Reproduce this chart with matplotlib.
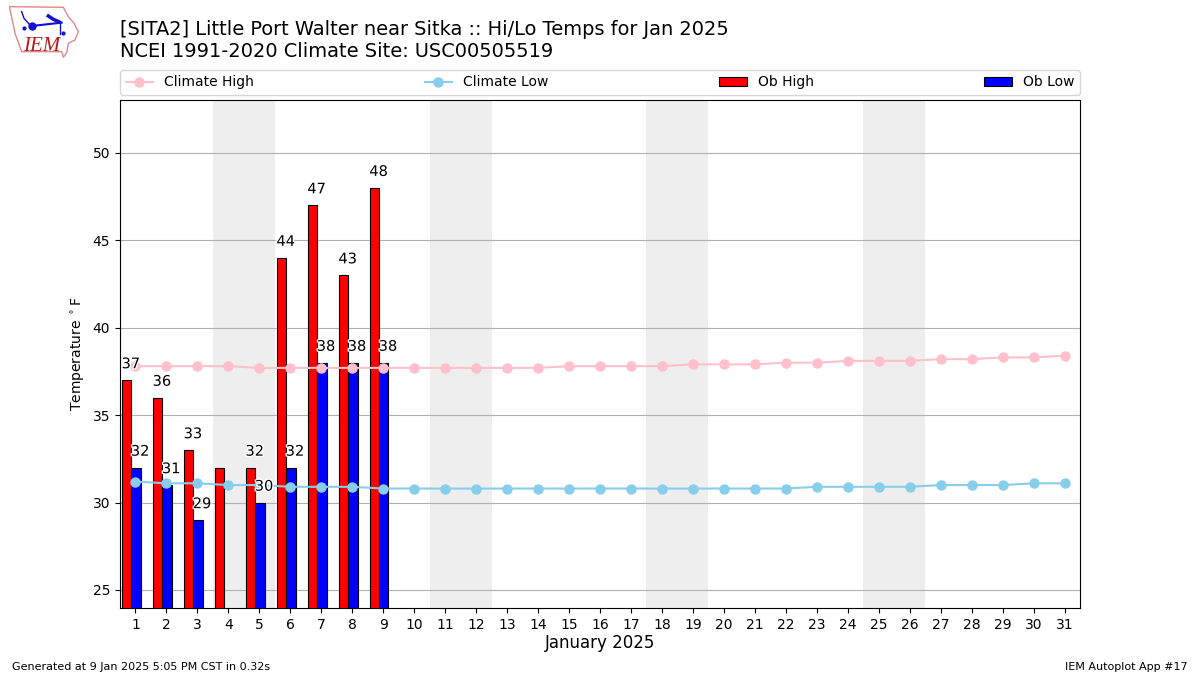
import matplotlib
matplotlib.use("Agg")
import matplotlib.pyplot as plt
import matplotlib.patheffects as pe
import numpy as np

days = list(range(1, 32))
climate_high = [37.8, 37.8, 37.8, 37.8, 37.7, 37.7, 37.7, 37.7, 37.7, 37.7, 37.7,
                37.7, 37.7, 37.7, 37.8, 37.8, 37.8, 37.8, 37.9, 37.9, 37.9, 38.0,
                38.0, 38.1, 38.1, 38.1, 38.2, 38.2, 38.3, 38.3, 38.4]
climate_low = [31.2, 31.1, 31.1, 31.0, 31.0, 30.9, 30.9, 30.9, 30.8, 30.8, 30.8,
               30.8, 30.8, 30.8, 30.8, 30.8, 30.8, 30.8, 30.8, 30.8, 30.8, 30.8,
               30.9, 30.9, 30.9, 30.9, 31.0, 31.0, 31.0, 31.1, 31.1]
ob_days = [1, 2, 3, 4, 5, 6, 7, 8, 9]
ob_high = [37, 36, 33, 32, 32, 44, 47, 43, 48]
# day 4 has no low on the chart and neither of its values is labelled
ob_low = [32, 31, 29, None, 30, 32, 38, 38, 38]
high_labels = [37, 36, 33, None, 32, 44, 47, 43, 48]
weekends = [(4, 5), (11, 12), (18, 19), (25, 26)]


def draw_logo(fig):
    ax = fig.add_axes([0.0075, 0.9126, 0.06, 0.0815])
    ax.set_xlim(27, 243)
    ax.set_ylim(177, 12)
    ax.axis("off")
    outline = [(28, 20), (190, 22), (205, 50), (222, 70), (235, 95), (225, 120), (205, 130),
               (200, 158), (190, 172), (185, 155), (65, 155), (45, 100), (40, 75), (28, 20)]
    blue = "#1010d0"
    ax.plot(*zip(*outline), color="#e08888", lw=1)
    ax.plot([95, 185], [78, 68], color=blue, lw=1.5)
    ax.plot([95], [78], "o", color=blue, ms=5)
    ax.plot([65, 72, 90], [35, 55, 75], color=blue, lw=1)
    ax.plot([145, 160, 178], [48, 58, 66], color=blue, lw=2.5)
    ax.plot([180, 180], [68, 102], color=blue, lw=1)
    ax.plot([72], [85], "o", color=blue, ms=2)
    ax.plot([188], [100], "o", color=blue, ms=2)
    ax.text(68, 153, "IEM", color="#c01818", family="Liberation Serif", style="italic",
            fontsize=15, ha="left", va="baseline")


def main():
    fig = plt.figure(figsize=(12, 6.75), dpi=100)
    ax = fig.add_axes([0.1, 0.0993, 0.8, 0.752])

    for start, end in weekends:
        ax.axvspan(start - 0.5, end + 0.5, color="#eeeeee", lw=0, zorder=0)

    red_x = [d - 0.28 for d in ob_days]
    blue_x = [d + 0.02 for d in ob_days]
    low_vals = [np.nan if v is None else v for v in ob_low]
    ax.bar(red_x, ob_high, width=0.3, color="red", edgecolor="black", lw=0.8,
           label="Ob High", zorder=2)
    ax.bar(blue_x, low_vals, width=0.3, color="blue", edgecolor="black", lw=0.8,
           label="Ob Low", zorder=2)

    ax.plot(days, climate_high, "-o", color="pink", ms=6.5, lw=1.5, label="Climate High", zorder=3)
    ax.plot(days, climate_low, "-o", color="skyblue", ms=6.5, lw=1.5, label="Climate Low", zorder=3)

    halo = [pe.withStroke(linewidth=2, foreground="white")]
    for d, val in zip(ob_days, high_labels):
        if val is not None:
            ax.text(d - 0.15, val + 0.68, str(val), ha="center", va="baseline",
                    fontsize=10.5, path_effects=halo, zorder=4)
    for d, val in zip(ob_days, ob_low):
        if val is not None:
            ax.text(d + 0.15, val + 0.68, str(val), ha="center", va="baseline",
                    fontsize=10.5, path_effects=halo, zorder=4)

    ax.set_xlim(0.5, 31.5)
    ax.set_ylim(23.97, 53)
    ax.set_xticks(days)
    ax.set_yticks([25, 30, 35, 40, 45, 50])
    ax.tick_params(labelsize=10)
    ax.yaxis.grid(True, color="#b0b0b0", lw=0.8)
    ax.set_axisbelow(True)
    ax.set_xlabel("January 2025", fontsize=12, labelpad=2)
    ax.set_ylabel(r"Temperature $^\circ$F", fontsize=10)

    handles, labels = ax.get_legend_handles_labels()
    order = [labels.index(n) for n in ["Climate High", "Climate Low", "Ob High", "Ob Low"]]
    ax.legend([handles[i] for i in order], [labels[i] for i in order], ncol=4, mode="expand",
              loc="lower left", bbox_to_anchor=(0, 1.0105, 1, 0.05), borderaxespad=0, fontsize=10)

    fig.text(0.1, 0.909, "[SITA2] Little Port Walter near Sitka :: Hi/Lo Temps for Jan 2025\n"
             "NCEI 1991-2020 Climate Site: USC00505519", fontsize=13.98, ha="left", va="bottom")
    fig.text(0.01, 0.0075, "Generated at 9 Jan 2025 5:05 PM CST in 0.32s", fontsize=8)
    fig.text(0.99, 0.0075, "IEM Autoplot App #17", fontsize=8, ha="right")
    draw_logo(fig)

    fig.savefig("out.png", dpi=100)


if __name__ == "__main__":
    main()
